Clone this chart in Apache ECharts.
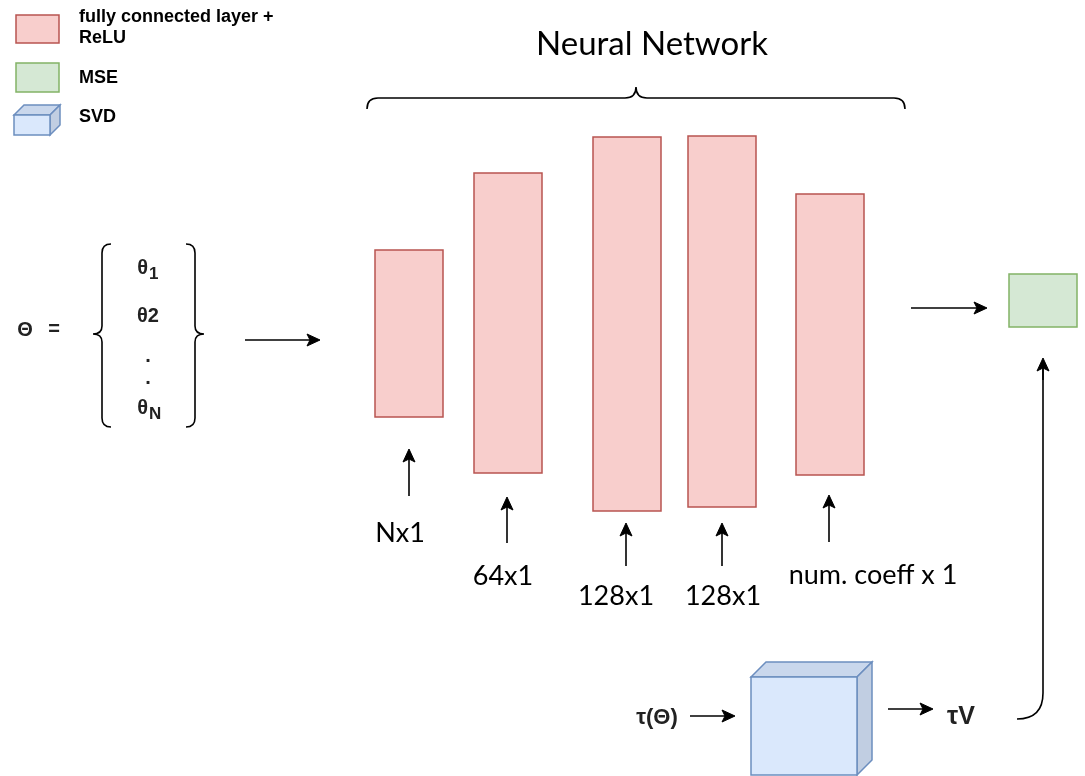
<!DOCTYPE html>
<html>
<head>
<meta charset="utf-8">
<script src="https://cdn.jsdelivr.net/npm/echarts@6/dist/echarts.min.js"></script>
<style>
html,body{margin:0;padding:0;background:#fff;}
#chart{width:1085px;height:776px;}
</style>
</head>
<body>
<div id="chart"></div>
<script>
// ---- data (diagram units) ----
const layerLabels = ['Nx1', '64x1', '128x1', '128x1', 'num. coeff x 1'];
const layerLeft   = [375, 474, 593, 688, 796];
const layerRight  = [443, 542, 661, 756, 864];
const layerTop    = [250, 173, 137, 136, 194];
const layerBottom = [417, 473, 511, 507, 475];
const arrowX      = [409, 507, 626, 722, 829];
const arrowTipY   = [449, 497, 523, 523, 495];
const arrowBaseY  = [496, 543, 566, 566, 542];
const labelX      = [400, 503, 616, 723, 873];
const labelY      = [533, 576, 596, 596, 575];

const thetaNames = ['θ', 'θ2', '.', '.', 'θ'];
const thetaSubs  = ['1', '', '', '', 'N'];
const thetaY     = [268, 316, 356, 378, 408];

const legendLabels = ['fully connected layer +\nReLU', 'MSE', 'SVD'];
const legendY      = [28, 78, 117];

const title = 'Neural Network';

const chart = echarts.init(document.getElementById('chart'), null, {renderer: 'canvas'});

const BOLD = '"Liberation Sans", Arial, sans-serif';
const LIGHT = 'Lato, "Open Sans", sans-serif';

function arrowEls(api, a, b) {
  const p = api.coord(a), q = api.coord(b);
  const dx = q[0] - p[0], dy = q[1] - p[1];
  const L = Math.hypot(dx, dy), ux = dx / L, uy = dy / L;
  const len = 13, hw = 6, notch = 3;
  const bx = q[0] - ux * len, by = q[1] - uy * len;
  const nx = -uy, ny = ux;
  const mx = q[0] - ux * (len - notch), my = q[1] - uy * (len - notch);
  return [
    {type: 'line', shape: {x1: p[0], y1: p[1], x2: mx, y2: my}, style: {stroke: '#000', lineWidth: 1.6}},
    {type: 'polygon', shape: {points: [[q[0], q[1]], [bx + nx * hw, by + ny * hw], [mx, my], [bx - nx * hw, by - ny * hw]]},
     style: {fill: '#000', stroke: '#000', lineWidth: 1}}
  ];
}

function pathFrom(api, cmds) {
  let d = '';
  cmds.forEach(c => {
    if (c[0] === 'Q') {
      const a = api.coord([c[1], c[2]]), b = api.coord([c[3], c[4]]);
      d += 'Q' + a[0] + ' ' + a[1] + ' ' + b[0] + ' ' + b[1] + ' ';
    } else {
      const a = api.coord([c[1], c[2]]);
      d += c[0] + a[0] + ' ' + a[1] + ' ';
    }
  });
  return d;
}

function cubeEls(api, x0, y0, x1, y1, d) {
  const P = (x, y) => api.coord([x, y]);
  const stroke = '#6c8ebf';
  return [
    {type: 'polygon', shape: {points: [P(x0, y0), P(x0 + d, y0 - d), P(x1 + d, y0 - d), P(x1, y0)]},
     style: {fill: '#c9d7ec', stroke: stroke, lineWidth: 1.5}},
    {type: 'polygon', shape: {points: [P(x1, y0), P(x1 + d, y0 - d), P(x1 + d, y1 - d), P(x1, y1)]},
     style: {fill: '#c1cee2', stroke: stroke, lineWidth: 1.5}},
    {type: 'rect', shape: (() => { const a = P(x0, y0), b = P(x1, y1); return {x: a[0], y: a[1], width: b[0] - a[0], height: b[1] - a[1]}; })(),
     style: {fill: '#dae8fc', stroke: stroke, lineWidth: 1.5}}
  ];
}

const option = {
  backgroundColor: '#ffffff',
  animation: false,
  grid: {left: 0, right: 0, top: 0, bottom: 0},
  xAxis: {type: 'value', min: 0, max: 1085, show: false},
  yAxis: {type: 'value', min: 0, max: 776, inverse: true, show: false},
  series: [
    {
      name: 'layers', type: 'custom', clip: false,
      data: layerLabels.map((l, i) => [layerLeft[i], layerTop[i], layerRight[i], layerBottom[i]]),
      renderItem: (params, api) => {
        const a = api.coord([api.value(0), api.value(1)]);
        const b = api.coord([api.value(2), api.value(3)]);
        return {type: 'rect', shape: {x: a[0], y: a[1], width: b[0] - a[0], height: b[1] - a[1]},
                style: {fill: '#f8cecc', stroke: '#b85450', lineWidth: 1.5}};
      }
    },
    {
      name: 'layer arrows', type: 'custom', clip: false,
      data: arrowX.map((x, i) => [x, arrowBaseY[i], arrowTipY[i]]),
      renderItem: (params, api) => ({type: 'group',
        children: arrowEls(api, [api.value(0), api.value(1)], [api.value(0), api.value(2)])})
    },
    {
      name: 'layer labels', type: 'custom', clip: false,
      data: layerLabels.map((l, i) => [labelX[i], labelY[i]]),
      renderItem: (params, api) => {
        const p = api.coord([api.value(0), api.value(1)]);
        return {type: 'text', x: p[0], y: p[1],
          style: {text: layerLabels[params.dataIndex], fill: '#000', font: '27px ' + LIGHT,
                  align: 'center', verticalAlign: 'middle'}};
      }
    },
    {
      name: 'theta', type: 'custom', clip: false,
      data: thetaNames.map((t, i) => [148, thetaY[i]]),
      renderItem: (params, api) => {
        const i = params.dataIndex;
        const p = api.coord([api.value(0), api.value(1)]);
        const name = thetaNames[i], sub = thetaSubs[i];
        const children = [];
        if (sub) {
          children.push({type: 'text', x: p[0], y: p[1],
            style: {text: name, fill: '#222', font: 'bold 20px ' + BOLD, align: 'right', verticalAlign: 'middle'}});
          children.push({type: 'text', x: p[0] + 1, y: p[1] + 6,
            style: {text: sub, fill: '#222', font: 'bold 17px ' + BOLD, align: 'left', verticalAlign: 'middle'}});
        } else {
          children.push({type: 'text', x: p[0], y: p[1],
            style: {text: name, fill: '#222', font: 'bold 20px ' + BOLD, align: 'center', verticalAlign: 'middle'}});
        }
        return {type: 'group', children: children};
      }
    },
    {
      name: 'legend', type: 'custom', clip: false,
      data: legendLabels.map((l, i) => [79, legendY[i]]),
      renderItem: (params, api) => {
        const i = params.dataIndex;
        const P = (x, y) => api.coord([x, y]);
        const p = api.coord([api.value(0), api.value(1)]);
        const children = [];
        if (i === 0) {
          const a = P(16, 15), b = P(59, 43);
          children.push({type: 'rect', shape: {x: a[0], y: a[1], width: b[0] - a[0], height: b[1] - a[1]},
            style: {fill: '#f8cecc', stroke: '#b85450', lineWidth: 1.5}});
        } else if (i === 1) {
          const a = P(16, 63), b = P(59, 92);
          children.push({type: 'rect', shape: {x: a[0], y: a[1], width: b[0] - a[0], height: b[1] - a[1]},
            style: {fill: '#d5e8d4', stroke: '#82b366', lineWidth: 1.5}});
        } else {
          cubeEls(api, 14, 115, 50, 135, 10).forEach(e => children.push(e));
        }
        children.push({type: 'text', x: p[0], y: p[1],
          style: {text: legendLabels[i], fill: '#000', font: 'bold 18px ' + BOLD, lineHeight: 21,
                  align: 'left', verticalAlign: 'middle'}});
        return {type: 'group', children: children};
      }
    },
    {
      name: 'diagram', type: 'custom', clip: false,
      data: [[0, 0]],
      renderItem: (params, api) => {
        const P = (x, y) => api.coord([x, y]);
        const children = [];
        const line = {stroke: '#000', lineWidth: 1.6, fill: null};
        // title
        const t = P(652, 44);
        children.push({type: 'text', x: t[0], y: t[1],
          style: {text: title, fill: '#000', font: '33px ' + LIGHT, align: 'center', verticalAlign: 'middle'}});
        // top brace
        children.push({type: 'path', shape: {pathData: pathFrom(api, [
          ['M', 367, 109], ['Q', 367, 98, 378, 98], ['L', 625, 98], ['Q', 636, 98, 636, 87],
          ['Q', 636, 98, 647, 98], ['L', 894, 98], ['Q', 905, 98, 905, 109]])}, style: line});
        // braces around theta list
        children.push({type: 'path', shape: {pathData: pathFrom(api, [
          ['M', 111, 244], ['Q', 102, 244, 102, 253], ['L', 102, 326], ['Q', 102, 334, 93, 334],
          ['Q', 102, 334, 102, 342], ['L', 102, 418], ['Q', 102, 427, 111, 427]])}, style: line});
        children.push({type: 'path', shape: {pathData: pathFrom(api, [
          ['M', 186, 244], ['Q', 195, 244, 195, 253], ['L', 195, 326], ['Q', 195, 334, 204, 334],
          ['Q', 195, 334, 195, 342], ['L', 195, 418], ['Q', 195, 427, 186, 427]])}, style: line});
        // Θ =
        const th = P(25, 330);
        children.push({type: 'text', x: th[0], y: th[1],
          style: {text: 'Θ', fill: '#222', font: 'bold 20px ' + BOLD, align: 'center', verticalAlign: 'middle'}});
        const eq = P(54, 329);
        children.push({type: 'text', x: eq[0], y: eq[1],
          style: {text: '=', fill: '#222', font: 'bold 20px ' + BOLD, align: 'center', verticalAlign: 'middle'}});
        // arrows
        arrowEls(api, [245, 340], [320, 340]).forEach(e => children.push(e));
        arrowEls(api, [911, 308], [987, 308]).forEach(e => children.push(e));
        arrowEls(api, [690, 716], [735, 716]).forEach(e => children.push(e));
        arrowEls(api, [888, 709], [933, 709]).forEach(e => children.push(e));
        // curved arrow into MSE
        children.push({type: 'path', shape: {pathData: pathFrom(api, [
          ['M', 1017, 719], ['Q', 1043, 719, 1043, 693], ['L', 1043, 368]])}, style: line});
        arrowEls(api, [1043, 380], [1043, 358]).forEach(e => children.push(e));
        // MSE box
        const m0 = P(1009, 274), m1 = P(1077, 327);
        children.push({type: 'rect', shape: {x: m0[0], y: m0[1], width: m1[0] - m0[0], height: m1[1] - m0[1]},
          style: {fill: '#d5e8d4', stroke: '#82b366', lineWidth: 1.5}});
        // SVD cube
        cubeEls(api, 751, 677, 857, 775, 15).forEach(e => children.push(e));
        // tau labels
        const ta = P(657, 718);
        children.push({type: 'text', x: ta[0], y: ta[1],
          style: {text: 'τ(Θ)', fill: '#222', font: 'bold 22px ' + BOLD, align: 'center', verticalAlign: 'middle'}});
        const tv = P(961, 717);
        children.push({type: 'text', x: tv[0], y: tv[1],
          style: {text: 'τV', fill: '#222', font: 'bold 25px ' + BOLD, align: 'center', verticalAlign: 'middle'}});
        return {type: 'group', children: children};
      }
    }
  ]
};
chart.setOption(option);
</script>
</body>
</html>
